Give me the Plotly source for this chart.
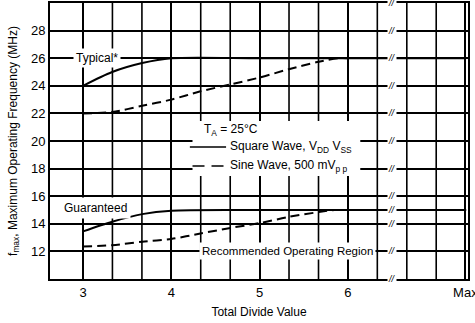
import plotly.graph_objects as go

# ---- data ----
divide_typ_square = [3.0, 3.33, 3.67, 4.0, 5.0, 6.0, 7.34]
freq_typ_square = [24.0, 25.0, 25.65, 26.0, 26.0, 26.0, 26.0]

divide_typ_sine = [3.0, 3.33, 3.67, 4.0, 4.33, 4.67, 5.0, 5.33, 5.67, 5.9, 6.0]
freq_typ_sine = [22.0, 22.1, 22.55, 23.0, 23.6, 24.1, 24.6, 25.2, 25.75, 26.0, 26.0]

divide_gtd_square = [3.0, 3.33, 3.67, 4.0, 5.0, 6.0, 7.34]
freq_gtd_square = [13.45, 14.15, 14.7, 14.95, 15.0, 15.0, 15.0]

divide_gtd_sine = [3.0, 3.33, 3.67, 4.0, 4.33, 4.67, 5.0, 5.33, 5.67, 5.85, 6.0]
freq_gtd_sine = [12.35, 12.45, 12.7, 12.9, 13.3, 13.7, 14.05, 14.5, 14.85, 15.0, 15.0]

x_tick_vals = [3, 4, 5, 6, 7.33]
x_tick_text = ["3", "4", "5", "6", "Max"]
x_grid_vals = [3.333, 3.667, 4.333, 4.667, 5.333, 5.667, 6.333, 6.667, 7.0]
y_tick_vals = [12, 14, 16, 18, 20, 22, 24, 26, 28]
break_levels = [10, 12, 14, 15, 16, 18, 20, 22, 24, 26, 28, 30]

FONT = "Liberation Sans, Arial, sans-serif"

fig = go.Figure()

shapes = []
for gx in x_grid_vals:
    shapes.append(dict(type="line", xref="x", yref="y", x0=gx, x1=gx, y0=10, y1=30,
                       line=dict(color="#000000", width=1.6), layer="above"))
shapes += [
    # white area behind the in-plot legend
    dict(type="rect", xref="x", yref="y", x0=4.24, x1=6.14, y0=17.46, y1=21.45,
         fillcolor="white", line=dict(width=0), layer="above"),
    # legend sample lines
    dict(type="line", xref="x", yref="y", x0=4.21, x1=4.62, y0=19.57, y1=19.57,
         line=dict(color="black", width=1.6), layer="above"),
    dict(type="line", xref="x", yref="y", x0=4.24, x1=4.62, y0=18.19, y1=18.19,
         line=dict(color="black", width=1.6, dash="12px,7px"), layer="above"),
]

def add_curve(x, y, dash):
    fig.add_trace(go.Scatter(
        x=x, y=y, mode="lines",
        line=dict(color="black", width=2, dash=dash, shape="spline", smoothing=0.8),
        showlegend=False, hoverinfo="skip"))

add_curve(divide_typ_square, freq_typ_square, "solid")
add_curve(divide_typ_sine, freq_typ_sine, "9px,5px")
add_curve(divide_gtd_square, freq_gtd_square, "solid")
add_curve(divide_gtd_sine, freq_gtd_sine, "9px,5px")

TXT = dict(size=12, family=FONT, color="black")
annotations = [
    dict(x=3.16, y=26, text="Typical*", showarrow=False, bgcolor="white", font=TXT, borderpad=2),
    dict(x=3.14, y=15.15, text="Guaranteed", showarrow=False, bgcolor="white", font=TXT, borderpad=3),
    dict(x=5.32, y=12, text="Recommended Operating Region", showarrow=False, bgcolor="white",
         font=dict(size=11.5, family=FONT, color="black"), borderpad=2),
    dict(x=4.68, y=20.8, text="T<sub>A</sub> = 25°C", showarrow=False, font=TXT),
    dict(x=4.64, y=19.57, xanchor="left", text="Square Wave, V<sub>DD</sub> V<sub>SS</sub>",
         showarrow=False, font=TXT),
    dict(x=4.64, y=18.19, xanchor="left", text="Sine Wave, 500 mV<sub>p p</sub>",
         showarrow=False, font=TXT),
]
for lvl in break_levels:
    annotations.append(dict(x=6.5, y=lvl, text="<i>//</i>", showarrow=False, bgcolor="white",
                            borderpad=0, font=dict(size=9, family=FONT, color="black")))

fig.update_layout(
    width=475, height=323,
    margin=dict(l=50, r=7, t=3, b=44),
    paper_bgcolor="white", plot_bgcolor="white",
    font=dict(family=FONT, size=12, color="black"),
    shapes=shapes, annotations=annotations,
    xaxis=dict(
        range=[2.626, 7.36], tickvals=x_tick_vals, ticktext=x_tick_text,
        showgrid=True, gridcolor="#000000", gridwidth=1.6, automargin=False,
        showline=True, linecolor="#000000", linewidth=2, mirror="all",
        ticks="", zeroline=False, tickfont=dict(size=13, family=FONT),
        ticklabeloverflow="allow",
        title=dict(text="Total Divide Value", font=dict(size=12, family=FONT), standoff=9),
    ),
    yaxis=dict(
        range=[10, 30], tickvals=y_tick_vals,
        showgrid=True, gridcolor="#000000", gridwidth=1.6, automargin=False,
        showline=True, linecolor="#000000", linewidth=2, mirror="all",
        ticks="", zeroline=False, tickfont=dict(size=13, family=FONT),
        title=dict(text="f<sub>max</sub>, Maximum Operating Frequency (MHz)",
                   font=dict(size=12, family=FONT), standoff=11),
    ),
)

fig.write_html("out.html", config={"displayModeBar": False},
               post_script="document.body.style.margin='0';")
